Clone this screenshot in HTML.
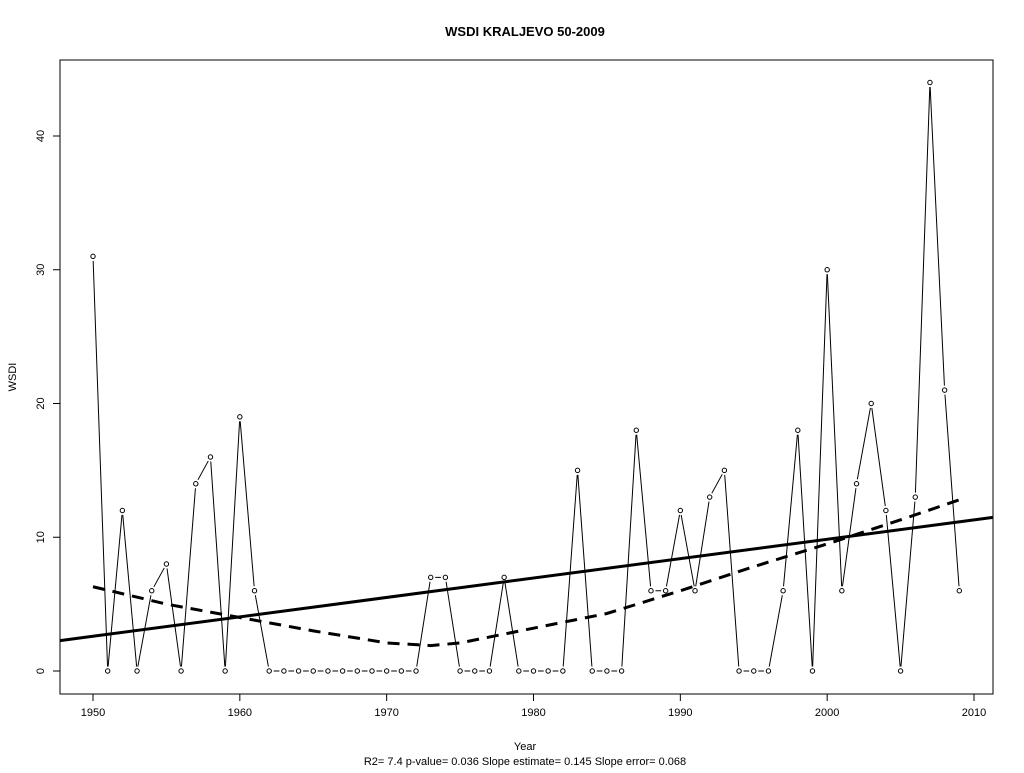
<!DOCTYPE html>
<html><head><meta charset="utf-8"><style>
body{margin:0;background:#fff;font-family:"Liberation Sans",Arial,sans-serif}
svg text{font-family:"Liberation Sans",Arial,sans-serif;font-size:11px}
</style></head><body>
<svg id="c" width="1024" height="768" xmlns="http://www.w3.org/2000/svg">
<text x="525" y="36" text-anchor="middle" font-weight="bold" style="font-size:13px">WSDI   KRALJEVO 50-2009</text>
<rect x="60" y="60" width="933" height="634" fill="none" stroke="#000"/>
<text x="525" y="750" text-anchor="middle">Year</text>
<text x="525" y="765" text-anchor="middle">R2= 7.4  p-value= 0.036  Slope estimate= 0.145  Slope error= 0.068</text>
<text transform="translate(16,377) rotate(-90)" text-anchor="middle">WSDI</text>
<g id="axes"></g><g id="series"></g>
</svg>
<script>
const years=[];for(let y=1950;y<=2009;y++)years.push(y);
const wsdi=[31,0,12,0,6,8,0,14,16,0,19,6,0,0,0,0,0,0,0,0,0,0,0,7,7,0,0,0,7,0,0,0,0,15,0,0,0,18,6,6,12,6,13,15,0,0,0,6,18,0,30,6,14,20,12,0,13,44,21,6];
const xTicks=[1950,1960,1970,1980,1990,2000,2010];
const yTicks=[0,10,20,30,40];
const trendIntercept=2.6, trendSlope=0.145;
const lowessX=[1950,1955,1960,1965,1970,1973,1975,1980,1985,1990,1995,2000,2005,2009];
const lowessY=[6.3,5.0,4.0,3.0,2.1,1.9,2.1,3.2,4.3,6.0,7.8,9.5,11.3,12.8];
const NS="http://www.w3.org/2000/svg";
const X=v=>93+(v-1950)*(974-93)/60, Y=v=>671-v*13.375;
function mk(t,a,p){const e=document.createElementNS(NS,t);for(const k in a)e.setAttribute(k,a[k]);p.appendChild(e);return e;}
const ax=document.getElementById('axes'),se=document.getElementById('series');
xTicks.forEach(t=>{
 const l=mk('line',{x1:X(t),x2:X(t),y1:694,y2:701,stroke:'#000'},ax);
 
 
 const tx=mk('text',{x:X(t),y:716,'text-anchor':'middle'},ax);tx.textContent=t;
 
 
});
yTicks.forEach(t=>{
 const l=mk('line',{x1:53,x2:60,y1:Y(t),y2:Y(t),stroke:'#000'},ax);
 
 
 const tx=mk('text',{transform:`translate(44,${Y(t)}) rotate(-90)`,'text-anchor':'middle'},ax);tx.textContent=t;
 
 
});
// series segments with gaps
for(let i=0;i<years.length-1;i++){
 const x1=X(years[i]),y1=Y(wsdi[i]),x2=X(years[i+1]),y2=Y(wsdi[i+1]);
 const dx=x2-x1,dy=y2-y1,d=Math.hypot(dx,dy),g=4.5;
 if(d<=2*g)continue;
 const l=mk('line',{x1:x1+dx*g/d,y1:y1+dy*g/d,x2:x2-dx*g/d,y2:y2-dy*g/d,stroke:'#000','stroke-width':1},se);
 
 
}
years.forEach((y,i)=>{
 const c=mk('circle',{cx:X(y),cy:Y(wsdi[i]),r:2.2,fill:'#fff',stroke:'#000','stroke-width':1},se);
 
 
});
const tr=mk('line',{x1:60,y1:Y(trendIntercept+trendSlope*((60-93)/((974-93)/60))),x2:993,y2:Y(trendIntercept+trendSlope*((993-93)/((974-93)/60))),stroke:'#000','stroke-width':3},se);


const lw=mk('polyline',{points:lowessX.map((x,i)=>X(x)+','+Y(lowessY[i])).join(' '),fill:'none',stroke:'#000','stroke-width':3,'stroke-dasharray':'12,8'},se);


</script>
</body></html>
